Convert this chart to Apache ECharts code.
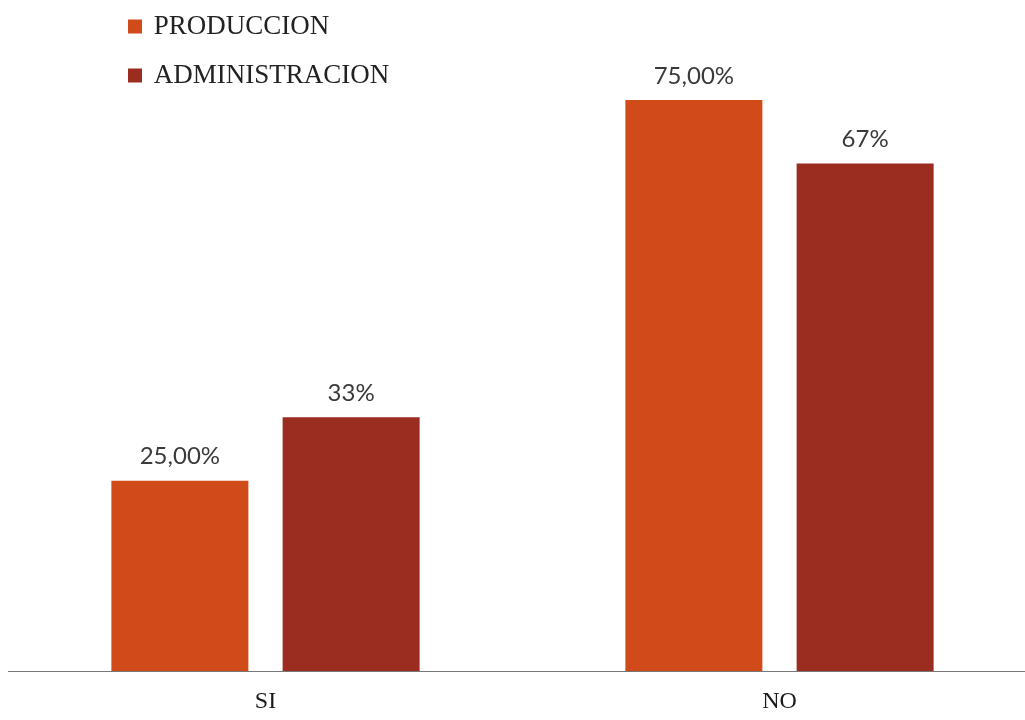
<!DOCTYPE html>
<html><head><meta charset="utf-8">
<script src="https://cdn.jsdelivr.net/npm/echarts@6/dist/echarts.min.js"></script>
<style>html,body{margin:0;padding:0;background:#fff}#c{width:1025px;height:720px}</style>
</head><body><div id="c"></div>
<script>
const categories = ['SI', 'NO'];
const produccion = [25, 75];
const administracion = [33.33, 66.67];
const produccionLabels = ['25,00%', '75,00%'];
const administracionLabels = ['33%', '67%'];
const seriesNames = ['PRODUCCION', 'ADMINISTRACION'];

const SERIF = '"Liberation Serif", "Times New Roman", serif';
const SANS = 'Lato, "Open Sans", sans-serif';
const chart = echarts.init(document.getElementById('c'));
chart.setOption({
  animation: false,
  backgroundColor: '#fff',
  textStyle: { fontFamily: SERIF },
  legend: {
    orient: 'vertical', left: 123, top: 8, itemGap: 22,
    itemWidth: 14, itemHeight: 14, icon: 'rect',
    formatter: name => ' ' + name,
    textStyle: { fontFamily: SERIF, fontSize: 27, color: '#222' },
    data: seriesNames
  },
  grid: { left: 8.5, width: 1028, top: 62, bottom: 49, outerBoundsMode: 'none', containLabel: false },
  xAxis: {
    type: 'category', data: categories,
    axisLine: { lineStyle: { color: '#777', width: 1 } },
    axisTick: { show: false },
    axisLabel: { fontFamily: SERIF, fontSize: 24, color: '#1a1a1a', margin: 19 }
  },
  yAxis: { type: 'value', min: 0, max: 80, show: false, splitLine: { show: false } },
  series: [
    { name: seriesNames[0], type: 'bar', data: produccion, barWidth: 137, barGap: '25%',
      itemStyle: { color: '#D04A1A' },
      label: { show: true, position: 'top', distance: 12, fontFamily: SANS, fontSize: 24, color: '#3a3a3a',
        formatter: p => produccionLabels[p.dataIndex] } },
    { name: seriesNames[1], type: 'bar', data: administracion, barWidth: 137,
      itemStyle: { color: '#9A2C20' },
      label: { show: true, position: 'top', distance: 12, fontFamily: SANS, fontSize: 24, color: '#3a3a3a',
        formatter: p => administracionLabels[p.dataIndex] } }
  ]
});
</script></body></html>
